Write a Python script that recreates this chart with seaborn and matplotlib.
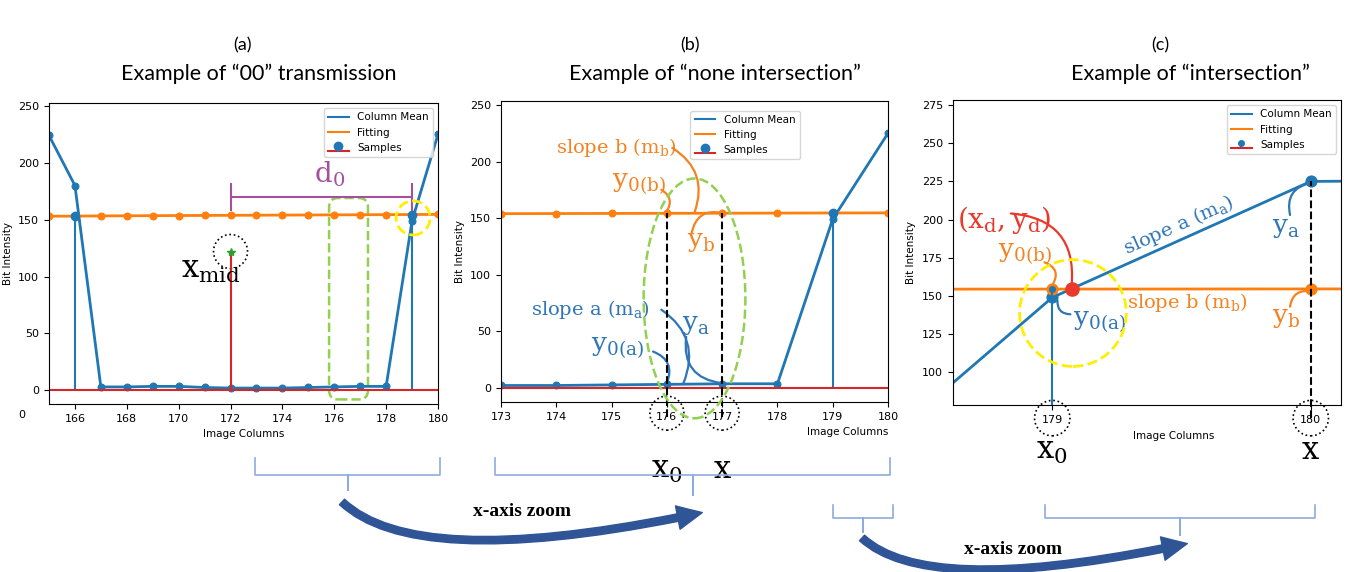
import seaborn as sns
import matplotlib.pyplot as plt
from matplotlib.patches import Ellipse, FancyBboxPatch, FancyArrowPatch
from matplotlib.lines import Line2D

# values
columns = [165, 166, 167, 168, 169, 170, 171, 172, 173, 174, 175, 176, 177, 178, 179, 180, 181]
column_mean = [224, 180, 3, 3, 3.5, 3.5, 2.5, 2, 2, 2, 2.5, 3, 3.5, 3.5, 149, 225, 226]
fitting = [153.0, 153.1, 153.3, 153.4, 153.5, 153.6, 153.7, 153.8, 153.9, 154.0,
           154.1, 154.2, 154.3, 154.4, 154.5, 154.6, 154.7]
sample_cols = [166, 179]
sample_vals = [153, 154.5]
mid_col, mid_val = 172, 122
cross_x, cross_y = 179.075, 154.5

BLUE, ORANGE, RED = '#1f77b4', '#ff7f0e', '#d62728'
TBLUE, TORANGE, TRED = '#2e75b6', '#f58220', '#e8392b'
SERIF = 'DejaVu Serif'

W, H = 1357, 572
fig = plt.figure(figsize=(W / 100, H / 100), dpi=100)


def px_axes(l, t, r, b):
    return fig.add_axes([l / W, 1 - b / H, (r - l) / W, (b - t) / H])


def fpt(x, y):
    return (x / W, 1 - y / H)


def draw_base(ax, ms, sms):
    sns.lineplot(x=columns, y=column_mean, ax=ax, color=BLUE, lw=2, marker='o',
                 markersize=ms, markeredgecolor=BLUE, legend=False)
    sns.lineplot(x=columns, y=fitting, ax=ax, color=ORANGE, lw=2, marker='o',
                 markersize=ms, markeredgecolor=ORANGE, legend=False)
    st = ax.stem(sample_cols, sample_vals, linefmt='C0-', markerfmt='C0o',
                 basefmt='C3-', label='Samples')
    st.baseline.set_xdata([columns[0], columns[-1]])
    st.markerline.set_markersize(sms)
    ax.tick_params(labelsize=8)
    ax.set_xlabel('Image Columns', fontsize=7.5)
    ax.set_ylabel('Bit Intensity', fontsize=7.5)
    return st


def add_legend(ax, st, **kw):
    handles = [Line2D([], [], color=BLUE, lw=1.5), Line2D([], [], color=ORANGE, lw=1.5), st]
    ax.legend(handles, ['Column Mean', 'Fitting', 'Samples'], fontsize=7.5, **kw)


def leader(ax, start, end, color, rad):
    ax.annotate('', xy=end, xytext=start, annotation_clip=False,
                arrowprops=dict(arrowstyle='-', color=color, lw=1.6, shrinkA=0, shrinkB=0,
                                connectionstyle=f'arc3,rad={rad}'))


def word(ax, x, y, s, color, size=19, **kw):
    ax.text(x, y, s, color=color, fontsize=size, family=SERIF, ha='left', va='center', **kw)


def tick_circle(ax, x, yfrac, s=600):
    ax.scatter([x], [yfrac], s=s, facecolors='none', edgecolors='k', linestyles=':',
               linewidths=1.2, transform=ax.get_xaxis_transform(), clip_on=False, zorder=5)


# ---------------- (a) ----------------
ax_a = px_axes(49, 103, 438, 404)
st_a = draw_base(ax_a, 5, 6)
ax_a.vlines(mid_col, 0, mid_val, color=RED, lw=1.5)
ax_a.plot(mid_col, mid_val, marker='*', color='tab:green', ms=6)
ax_a.set_xlim(165, 180)
ax_a.set_ylim(-12, 252.5)
ax_a.set_xticks(range(166, 181, 2))
ax_a.set_yticks(range(0, 251, 50))
add_legend(ax_a, st_a, loc='upper right')
ax_a.scatter([mid_col], [mid_val], s=600, facecolors='none', edgecolors='k', linestyles=':', linewidths=1.2)
ax_a.scatter([179.04], [151.5], s=600, facecolors='none', edgecolors='#ffee00', linestyles='--', linewidths=2, zorder=6)
ax_a.add_patch(FancyBboxPatch((175.8, -8), 1.5, 177, boxstyle='round,pad=0,rounding_size=0.35',
                              mutation_aspect=23, fill=False, ec='#92d050', ls='--', lw=1.8))
PURPLE = '#a5509f'
ax_a.plot([172, 179], [170, 170], color=PURPLE, lw=1.5)
ax_a.vlines([172, 179], 158, 182, color=PURPLE, lw=1.5)
word(ax_a, 175.2, 190, r'$\mathregular{d_0}$', PURPLE, 20)
word(ax_a, 170.1, 106, r'$\mathregular{x_{mid}}$', 'k', 22)
fig.text(22 / W, 1 - 415 / H, '0', fontsize=8, ha='center', va='center')

# ---------------- (b) ----------------
ax_b = px_axes(501, 101, 888, 402)
st_b = draw_base(ax_b, 5, 6)
ax_b.set_xlim(173, 180)
ax_b.set_ylim(-12.6, 253.5)
ax_b.set_xticks(range(173, 181))
ax_b.set_yticks(range(0, 251, 50))
ax_b.set_xlabel('Image Columns', fontsize=7.5, loc='right')
add_legend(ax_b, st_b, loc='upper right', bbox_to_anchor=(0.785, 0.985))
ax_b.vlines([176, 177], -26, 154.5, color='k', ls='--', lw=1.5, clip_on=False, zorder=4)
ax_b.add_patch(Ellipse((176.5, 79), 1.84, 212, fill=False, ec='#92d050', ls='--', lw=1.8, clip_on=False, zorder=6))
tick_circle(ax_b, 176, -0.037)
tick_circle(ax_b, 177, -0.037)
word(ax_b, 174.0, 212, r'slope b ($\mathregular{m_b}$)', TORANGE, 14)
leader(ax_b, (176.1, 212), (176.5, 155), TORANGE, -0.4)
word(ax_b, 175.0, 181, r'$\mathregular{y_{0(b)}}$', TORANGE)
leader(ax_b, (175.9, 175), (176.0, 156), TORANGE, -0.5)
word(ax_b, 176.36, 129, r'$\mathregular{y_b}$', TORANGE)
leader(ax_b, (176.45, 137), (177.0, 154.5), TORANGE, -0.5)
word(ax_b, 173.55, 69, r'slope a ($\mathregular{m_a}$)', TBLUE, 14)
leader(ax_b, (175.9, 69), (176.3, 4), TBLUE, -0.4)
word(ax_b, 174.62, 36, r'$\mathregular{y_{0(a)}}$', TBLUE)
leader(ax_b, (175.75, 32), (176.0, 4), TBLUE, -0.5)
word(ax_b, 176.27, 56, r'$\mathregular{y_a}$', TBLUE)
leader(ax_b, (176.35, 45), (177.0, 4), TBLUE, 0.5)
for xv, s in [(176, r'$\mathregular{x_0}$'), (177, r'$\mathregular{x}$')]:
    ax_b.text(xv, -0.225, s, transform=ax_b.get_xaxis_transform(), fontsize=22,
              family=SERIF, ha='center', va='center')

# ---------------- (c) ----------------
ax_c = px_axes(953, 100, 1341, 405)
st_c = draw_base(ax_c, 8, 4)
ax_c.scatter([cross_x], [cross_y], s=90, color=TRED, zorder=7)
ax_c.set_xlim(178.616, 180.117)
ax_c.set_ylim(78.6, 278.3)
ax_c.set_xticks([179, 180])
ax_c.set_yticks(range(100, 276, 25))
ax_c.xaxis.set_label_coords(0.57, -0.085)
add_legend(ax_c, st_c, loc='upper right')
ax_c.vlines(180, 70, 225, color='k', ls='--', lw=1.5, clip_on=False, zorder=4)
ax_c.scatter([179.08], [138.8], s=5900, facecolors='none', edgecolors='#ffee00',
             linestyles='--', linewidths=2, zorder=6)
tick_circle(ax_c, 179, -0.043, 650)
tick_circle(ax_c, 180, -0.043, 650)
word(ax_c, 178.63, 200, r'$\mathregular{(x_d, y_d)}$', TRED, 20)
leader(ax_c, (178.84, 204), (cross_x, 157), TRED, -0.5)
word(ax_c, 178.79, 178, r'$\mathregular{y_{0(b)}}$', TORANGE)
leader(ax_c, (178.97, 172), (179.0, 157), TORANGE, -0.6)
word(ax_c, 179.08, 133, r'$\mathregular{y_{0(a)}}$', TBLUE)
leader(ax_c, (179.07, 138), (179.02, 147), TBLUE, -0.5)
ax_c.text(179.49, 196, r'slope a ($\mathregular{m_a}$)', color=TBLUE, fontsize=14, family=SERIF,
          rotation=24, ha='center', va='center', rotation_mode='anchor')
word(ax_c, 179.29, 146, r'slope b ($\mathregular{m_b}$)', TORANGE, 14)
word(ax_c, 179.85, 195, r'$\mathregular{y_a}$', TBLUE)
leader(ax_c, (179.92, 203), (180.0, 224), TBLUE, -0.5)
word(ax_c, 179.85, 136, r'$\mathregular{y_b}$', TORANGE)
leader(ax_c, (179.92, 143), (180.0, 153), TORANGE, -0.5)
for xv, s in [(179, r'$\mathregular{x_0}$'), (180, r'$\mathregular{x}$')]:
    ax_c.text(xv, -0.15, s, transform=ax_c.get_xaxis_transform(), fontsize=22,
              family=SERIF, ha='center', va='center')

# ---------------- titles ----------------
for x, tag in [(243, '(a)'), (690, '(b)'), (1160, '(c)')]:
    fig.text(*fpt(x, 45), tag, fontsize=13, family='Lato', ha='center', va='center')
xs_title = [259, 715, 1190]
for xt, title in zip(xs_title, ['Example of “00” transmission', 'Example of “none intersection”',
                                'Example of “intersection”']):
    fig.text(*fpt(xt, 74), title, fontsize=15.5, family='Lato', ha='center', va='center')


# ---------------- braces and zoom arrows ----------------
def brace(x1, x2, top, mid, tip):
    xc = (x1 + x2) / 2
    pts = [fpt(x1, top), fpt(x1, mid), fpt(xc, mid), fpt(xc, tip), fpt(xc, mid), fpt(x2, mid), fpt(x2, top)]
    xs, ys = zip(*pts)
    fig.add_artist(Line2D(xs, ys, transform=fig.transFigure, color='#8faadc', lw=1.2))


brace(255, 440, 458, 475, 490)
brace(495, 890, 458, 475, 495)
brace(833, 893, 505, 518, 532)
brace(1045, 1315, 505, 518, 535)

for a, b in [((340, 500), (705, 512)), ((860, 536), (1190, 543))]:
    fig.add_artist(FancyArrowPatch(fpt(*a), fpt(*b), transform=fig.transFigure,
                                   connectionstyle='angle3,angleA=-45,angleB=12',
                                   arrowstyle='simple,tail_width=0.3,head_width=0.95,head_length=1.0',
                                   mutation_scale=18, color='#2f5597'))
fig.text(*fpt(522, 512), 'x-axis zoom', fontsize=14, family='Liberation Serif', weight='bold',
         ha='center', va='center')
fig.text(*fpt(1013, 550), 'x-axis zoom', fontsize=14, family='Liberation Serif', weight='bold',
         ha='center', va='center')

fig.savefig('out.png', dpi=100)
